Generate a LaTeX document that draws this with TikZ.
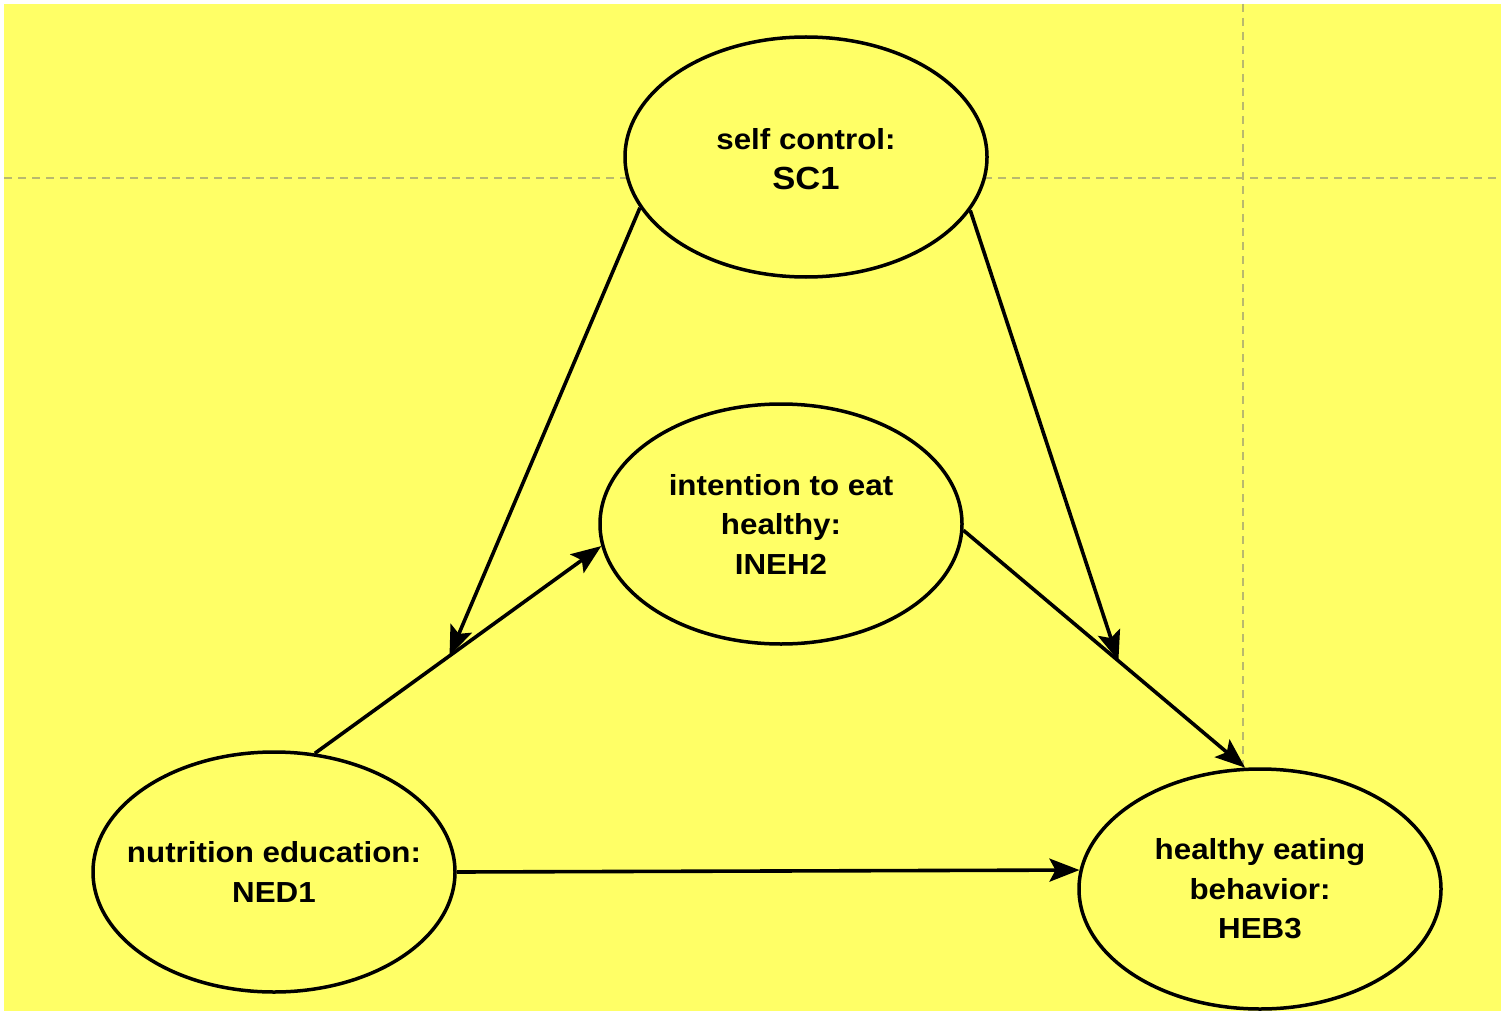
\documentclass[tikz,border=0pt]{standalone}
\usepackage{fontspec}
\setmainfont[FakeStretch=1.08]{Liberation Sans}
\usetikzlibrary{shapes.geometric,arrows.meta}
\definecolor{canvas}{RGB}{255,255,102}
\definecolor{guide}{RGB}{185,185,110}
\begin{document}
\begin{tikzpicture}[x=1pt,y=-1pt,
  construct/.style={ellipse,draw=black,line width=3.5pt,fill=canvas,
    minimum width=362pt,minimum height=240pt,inner sep=0pt},
  caption/.style={align=center,inner sep=0pt,
    font=\bfseries\fontsize{29}{39.5}\selectfont},
  path/.style={line width=3.6pt,-{Stealth[length=30pt,width=23pt,inset=6pt]}},
  guideline/.style={guide,line width=1.5pt,dash pattern=on 8pt off 6pt}]
  % canvas
  \useasboundingbox (0,0) rectangle (1501,1011);
  \fill[white] (0,0) rectangle (1501,1011);
  \fill[canvas] (4,4) rectangle (1501,1011);
  % guide lines
  \coordinate (gh1) at (4,178);
  \coordinate (gh2) at (1501,178);
  \coordinate (gv1) at (1243,4);
  \coordinate (gv2) at (1243,880);
  \draw[guideline] (gh1) -- (gh2);
  \draw[guideline] (gv1) -- (gv2);
  % constructs
  \node[construct] (SC1) at (806,157) {};
  \node[construct] (INEH2) at (781,524) {};
  \node[construct] (NED1) at (274,872) {};
  \node[construct] (HEB3) at (1260,889) {};
  \node[caption] (SC1t) at (806,159) {self control:\\{\fontsize{32}{39.5}\selectfont SC1}};
  \node[caption] (INEH2t) at (INEH2) {intention to eat\\healthy:\\INEH2};
  \node[caption] (NED1t) at (NED1) {nutrition education:\\NED1};
  \node[caption] (HEB3t) at (HEB3) {healthy eating\\behavior:\\HEB3};
  % paths
  \draw[path] (NED1.71.6) -- (INEH2.187.6)
    coordinate[pos=0.47] (m1);
  \draw[path] (INEH2.358.7) -- (HEB3.97.7)
    coordinate[pos=0.55] (m2);
  \draw[path] (SC1.197.3) -- (m1);
  \draw[path] (SC1.342.7) -- (m2);
  \draw[path] (NED1.east) -- (HEB3.174.6);
\end{tikzpicture}
\end{document}
